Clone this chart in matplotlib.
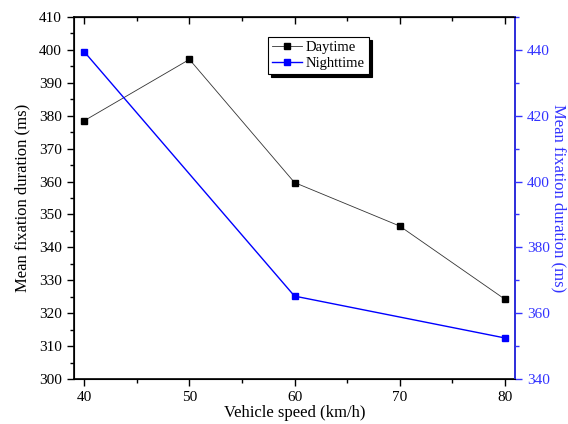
import numpy as np
import matplotlib
matplotlib.use("Agg")
import matplotlib.pyplot as plt
from matplotlib.ticker import MultipleLocator

plt.rcParams['font.family'] = ['Liberation Serif', 'DejaVu Serif']

speed = [40, 50, 60, 70, 80]
day = [378.5, 397.1, 359.7, 346.5, 324.3]
night_speed = [40, 60, 80]
night = [439.4, 365.2, 352.5]

fig, ax = plt.subplots(figsize=(5.68, 4.24), dpi=100)
fig.subplots_adjust(left=0.13, right=0.907, top=0.96, bottom=0.106)

l1, = ax.plot(speed, day, color='#333333', lw=0.6, marker='s', ms=4,
              mfc='black', mec='black', label='Daytime')
ax.set_xlim(39, 81)
ax.set_ylim(300, 410)
ax.xaxis.set_major_locator(MultipleLocator(10))
ax.xaxis.set_minor_locator(MultipleLocator(5))
ax.yaxis.set_major_locator(MultipleLocator(10))
ax.yaxis.set_minor_locator(MultipleLocator(5))
ax.tick_params(axis='x', which='both', direction='out', labelsize=11)
ax.tick_params(axis='y', which='both', direction='out', labelsize=11)
ax.tick_params(which='major', length=5, width=1)
ax.tick_params(which='minor', length=3, width=1)
for s in ax.spines.values():
    s.set_linewidth(1.2)
ax.set_xlabel('Vehicle speed (km/h)', fontsize=12, labelpad=1)
ax.set_ylabel('Mean fixation duration (ms)', fontsize=12, labelpad=6)

ax2 = ax.twinx()
l2, = ax2.plot(night_speed, night, color='#0000ff', lw=1.0, marker='s', ms=4,
               mfc='#0000ff', mec='#0000ff', label='Nighttime')
ax2.set_ylim(340, 450)
ax2.yaxis.set_major_locator(MultipleLocator(20))
ax2.yaxis.set_minor_locator(MultipleLocator(10))
ax2.tick_params(axis='y', which='both', direction='out', colors='#3333ff', labelsize=11)
ax2.tick_params(which='major', length=5, width=1)
ax2.tick_params(which='minor', length=3, width=1)
ax2.spines['right'].set_color('#3333ff')
ax2.spines['right'].set_linewidth(1.2)
ax2.set_ylabel('Mean fixation duration (ms)', fontsize=12, color='#3333ff',
               rotation=270, labelpad=12)

# top ticks pointing inward
sec = ax.secondary_xaxis('top')
sec.xaxis.set_major_locator(MultipleLocator(10))
sec.xaxis.set_minor_locator(MultipleLocator(5))
sec.tick_params(which='both', direction='in', labeltop=False)
sec.tick_params(which='major', length=5, width=1)
sec.tick_params(which='minor', length=3, width=1)

leg = ax2.legend([l1, l2], ['Daytime', 'Nighttime'], loc='upper left',
                 bbox_to_anchor=(0.44, 0.945), borderaxespad=0, fontsize=10.5,
                 shadow={'color': 'black', 'alpha': 1},
                 fancybox=False, edgecolor='black', framealpha=1,
                 handlelength=2.0, handletextpad=0.3, borderpad=0.3, labelspacing=0.15)
leg.get_frame().set_linewidth(0.8)

fig.savefig('out.png', dpi=100)
